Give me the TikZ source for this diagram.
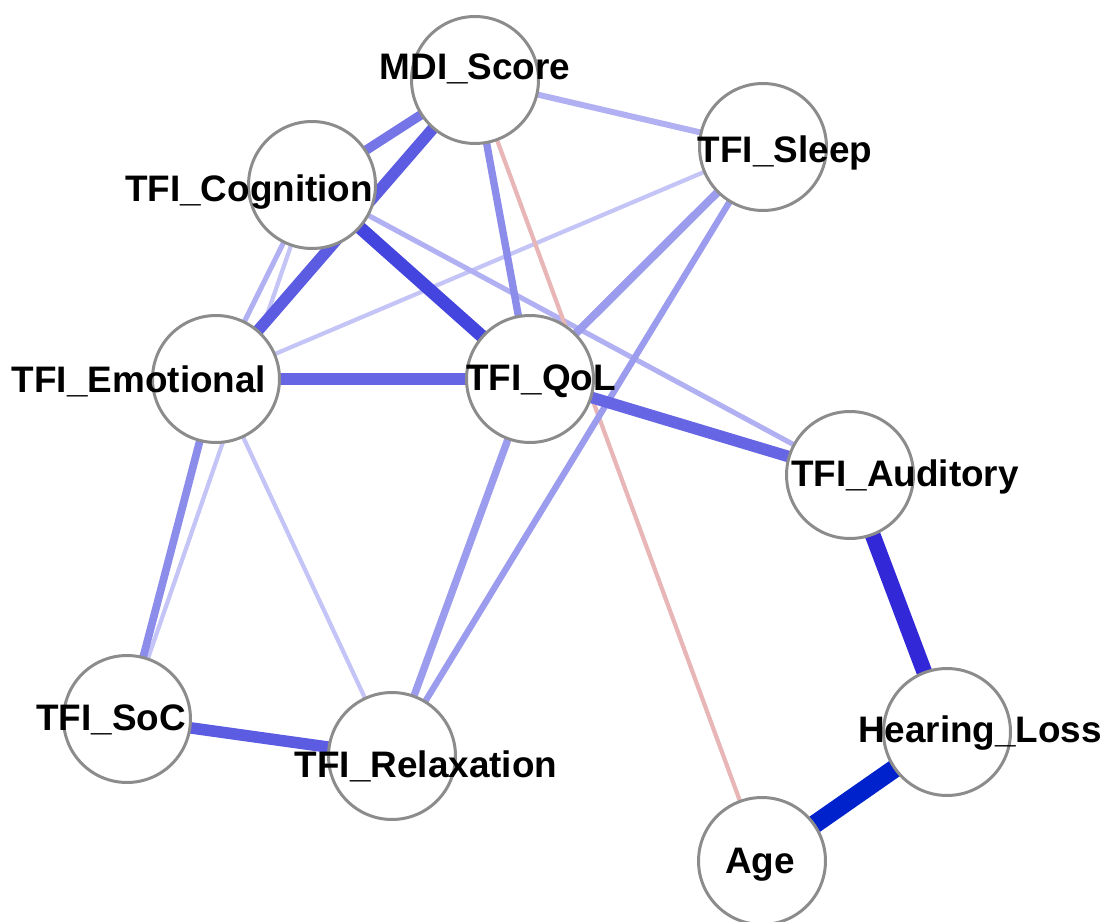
\documentclass[tikz,border=0pt]{standalone}
\usepackage{fontspec}
\setmainfont{Liberation Sans}
\usetikzlibrary{backgrounds}
\definecolor{eA}{RGB}{0,34,204}
\definecolor{eB}{RGB}{50,40,215}
\definecolor{eC}{RGB}{68,68,222}
\definecolor{eD}{RGB}{92,92,226}
\definecolor{eE}{RGB}{102,102,228}
\definecolor{eF}{RGB}{117,117,231}
\definecolor{eG}{RGB}{140,140,235}
\definecolor{eH}{RGB}{156,156,238}
\definecolor{eI}{RGB}{176,176,242}
\definecolor{eJ}{RGB}{196,196,246}
\definecolor{neg}{RGB}{232,182,182}

\begin{document}
\begin{tikzpicture}[x=0.02cm,y=-0.02cm,vn/.style={circle,draw=black!45,line width=1.7pt,fill=white,minimum size=2.54cm,inner sep=0pt},lab/.style={anchor=base,inner sep=0pt,font=\fontsize{21}{25}\selectfont\bfseries},ed/.style 2 args={draw=#1,line width=#2}]
\useasboundingbox (0,0) rectangle (1106,922);
% circles
\node[vn] (mdi) at (475,80) {};
\node[vn] (sleep) at (763,147) {};
\node[vn] (cog) at (312,185) {};
\node[vn] (emo) at (216,379) {};
\node[vn] (qol) at (530,379) {};
\node[vn] (aud) at (850,475) {};
\node[vn] (hl) at (947,732) {};
\node[vn] (age) at (762,861) {};
\node[vn] (soc) at (127,719) {};
\node[vn] (rel) at (392,756) {};
% labels
\node[lab] (lmdi) at (475,80) {MDI\_Score};
\node[lab] (lsleep) at (785,163) {TFI\_Sleep};
\node[lab] (lcog) at (249,202) {TFI\_Cognition};
\node[lab] (lemo) at (139,393) {TFI\_Emotional};
\node[lab] (lqol) at (541,390) {TFI\_QoL};
\node[lab] (laud) at (905,486) {TFI\_Auditory};
\node[lab] (lhl) at (980,742) {Hearing\_Loss};
\node[lab] (lage) at (760,873) {Age};
\node[lab] (lsoc) at (111,730) {TFI\_SoC};
\node[lab] (lrel) at (426,777) {TFI\_Relaxation};
% edges
\begin{pgfonlayer}{background}
\draw[ed={eJ}{2.4pt}] (sleep.center)--(emo.center);
\draw[ed={eJ}{2.4pt}] (emo.center)--(rel.center);
\draw[ed={eJ}{2.4pt}] (cog.center)--(soc.center);
\draw[ed={eI}{2.9pt}] (cog.center)--(emo.center);
\draw[ed={eI}{2.9pt}] (cog.center)--(aud.center);
\draw[ed={eI}{3.4pt}] (mdi.center)--(sleep.center);
\draw[ed={neg}{2.4pt}] (mdi.center)--(age.center);
\draw[ed={eH}{3.6pt}] (sleep.center)--(rel.center);
\draw[ed={eH}{4.2pt}] (qol.center)--(rel.center);
\draw[ed={eH}{4.6pt}] (sleep.center)--(qol.center);
\draw[ed={eG}{4.2pt}] (mdi.center)--(qol.center);
\draw[ed={eG}{4.4pt}] (emo.center)--(soc.center);
\draw[ed={eF}{5.4pt}] (mdi.center)--(cog.center);
\draw[ed={eD}{6.6pt}] (mdi.center)--(emo.center);
\draw[ed={eE}{6.6pt}] (emo.center)--(qol.center);
\draw[ed={eE}{6.6pt}] (qol.center)--(aud.center);
\draw[ed={eD}{6.6pt}] (soc.center)--(rel.center);
\draw[ed={eC}{7.4pt}] (cog.center)--(qol.center);
\draw[ed={eB}{9pt}] (aud.center)--(hl.center);
\draw[ed={eA}{10.5pt}] (hl.center)--(age.center);
\end{pgfonlayer}
\end{tikzpicture}
\end{document}
